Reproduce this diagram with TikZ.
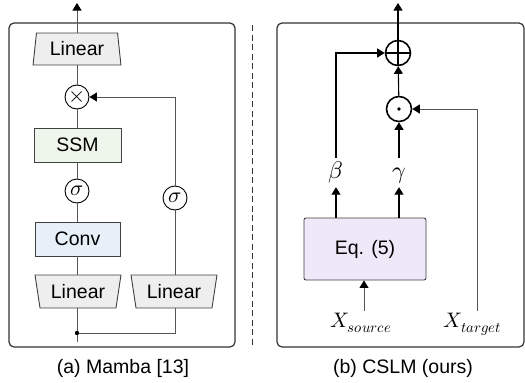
\documentclass[tikz,border=0pt]{standalone}
\usepackage{unicode-math}
\setmainfont{Liberation Sans}
\setmathfont{Latin Modern Math}
\usetikzlibrary{shapes.geometric,arrows.meta}
\definecolor{ssmc}{HTML}{EEF5EA}
\definecolor{convc}{HTML}{E7EFF9}
\definecolor{eqc}{HTML}{EFE8F8}
\definecolor{linc}{HTML}{EEEEEE}
\definecolor{edgec}{HTML}{404040}
\definecolor{framec}{HTML}{333333}
\definecolor{linec}{HTML}{555555}
\begin{document}
\begin{tikzpicture}[x=1pt,y=-1pt,
  font=\fontsize{19.5}{23}\selectfont,
  tip/.tip={Triangle[length=7.5pt,width=9pt,color=black]},
  frame/.style={draw=framec,line width=1.2pt,rounded corners=5pt},
  box/.style={draw=edgec,line width=0.9pt,minimum width=87pt,minimum height=34pt,inner sep=0pt},
  lintop/.style={trapezium,draw=edgec,fill=linc,line width=0.9pt,trapezium stretches=true,
     trapezium left angle=81,trapezium right angle=81,minimum width=88pt,minimum height=32pt,inner sep=0pt},
  linbot/.style={lintop,shape border rotate=180,trapezium left angle=76,trapezium right angle=76,minimum width=86pt,minimum height=33pt},
  op/.style={circle,draw=black,line width=0.9pt,minimum size=24pt,inner sep=0pt,font=\fontsize{22}{24}\selectfont},
  gl/.style={draw=linec,line width=1pt},
  bl/.style={draw=black,line width=1.1pt},
  plus/.style={circle,draw=black,line width=1.6pt,minimum size=25pt,inner sep=0pt,
     path picture={\draw[line width=1.4pt] (path picture bounding box.north) -- (path picture bounding box.south)
       (path picture bounding box.west) -- (path picture bounding box.east);}},
  odot/.style={circle,draw=black,line width=1.6pt,minimum size=25pt,inner sep=0pt,
     path picture={\fill (path picture bounding box.center) circle (1.8pt);}},
  lbl/.style={inner xsep=2pt,inner ysep=5pt,text height=15pt,text depth=4pt,font=\fontsize{24}{26}\selectfont},
  xl/.style={inner sep=1pt,font=\fontsize{21}{24}\selectfont}
]
\useasboundingbox (0,0) rectangle (525,383);
% frames
\draw[frame] (9,23) rectangle (235,347);
\draw[frame] (277,23) rectangle (524,347);
\draw[framec,line width=1pt,dash pattern=on 6pt off 3.5pt] (252,25) -- (252,345);

% ---------- left panel ----------
\node[lintop] (L1) at (77,49) {Linear};
\node[op] (mul) at (77,97) {$\times$};
\node[box,fill=ssmc] (ssm) at (77.5,145) {SSM};
\node[op] (s1) at (77,191) {$\sigma$};
\node[box,fill=convc,minimum width=85pt] (conv) at (77.5,239) {Conv};
\node[linbot] (L2) at (78,291.5) {Linear};
\node[linbot] (L3) at (174,291.5) {Linear};
\node[op] (s2) at (175,198) {$\sigma$};
\coordinate (j) at (77,333);
\coordinate (in) at (77,342);
\coordinate (topL) at (77,3);

\draw[gl,-tip] (L1) -- (topL);
\draw[gl] (mul) -- (L1);
\draw[gl] (ssm.north -| mul) -- (mul);
\draw[gl] (s1) -- (ssm.south -| s1);
\draw[gl] (conv.north -| s1) -- (s1);
\draw[gl] (L2.north -| s1) -- (conv.south -| s1);
\draw[gl] (in) -- (in |- L2.south);
\draw[gl] (j) -| (L3.south -| s2);
\draw[gl] (L3.north -| s2) -- (s2);
\draw[gl,-tip] (s2) |- (mul);
\fill (j) circle (2.2pt);

\node (capa) at (123,368) {(a) Mamba [13]};

% ---------- right panel ----------
\node[plus] (plus) at (398,53) {};
\node[odot] (od) at (399,109) {};
\node[lbl,anchor=base] (beta) at (336,178) {$\beta$};
\node[lbl,anchor=base] (gamma) at (399,178) {$\gamma$};
\node[box,fill=eqc,rounded corners=2pt,minimum width=122pt,minimum height=62pt] (eq) at (365,249) {Eq. (5)};
\node[xl,anchor=base] (xs) at (361,327) {$X_{source}$};
\node[xl,anchor=base] (xt) at (472.5,327) {$X_{target}$};
\coordinate (topR) at (398,3);

\draw[bl,-tip] (plus) -- (topR);
\draw[bl,-tip] (od) -- (plus);
\draw[bl,-tip] (gamma) -- (od);
\draw[bl,-tip] (beta) |- (plus);
\draw[bl,-tip] (eq.north -| beta) -- (beta);
\draw[bl,-tip] (eq.north -| gamma) -- (gamma);
\draw[gl,-tip] (xs.north -| 364,0) -- (eq.south -| 364,0);
\draw[gl,-tip] (xs.north -| 477,0) |- (od);

\node (capb) at (403,368) {(b) CSLM (ours)};
\end{tikzpicture}
\end{document}
